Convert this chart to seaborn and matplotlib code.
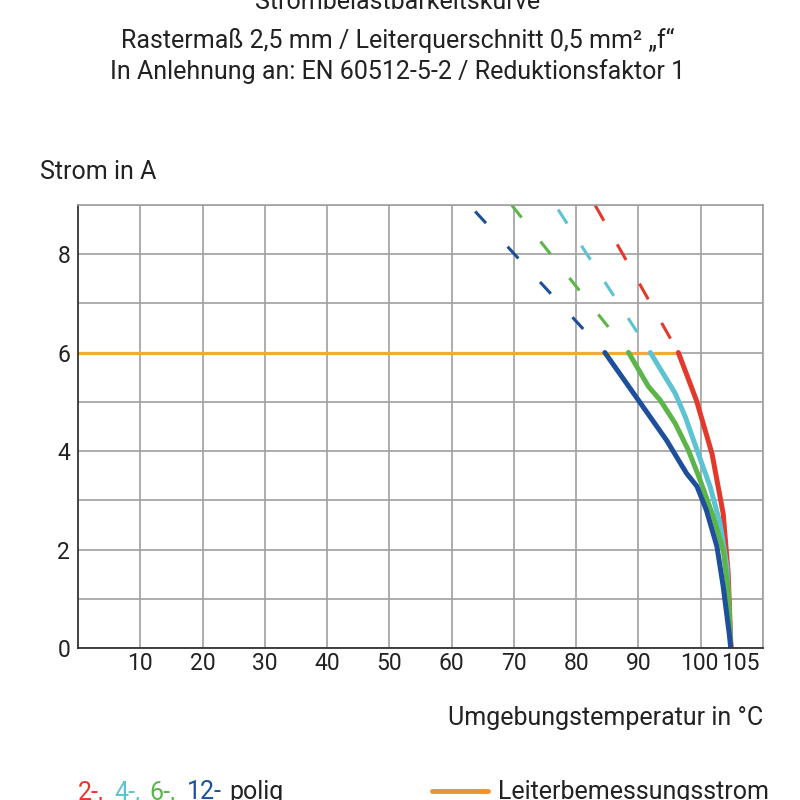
import matplotlib
matplotlib.use("Agg")
import matplotlib.pyplot as plt
import matplotlib.transforms as mtransforms
import seaborn as sns
import pandas as pd

# Daten
temp_2pol = [96.4, 99.3, 101.8, 103.6, 104.4, 104.8, 104.9]
strom_2pol = [6.0, 5.03, 3.95, 2.73, 1.52, 0.16, 0.0]
temp_4pol = [91.9, 95.9, 97.5, 99.4, 101.5, 103.1, 104.2, 104.8]
strom_4pol = [6.0, 5.17, 4.7, 4.02, 3.28, 2.53, 1.65, 0.0]
temp_6pol = [88.4, 91.6, 93.5, 95.9, 98.0, 99.9, 102.0, 103.6, 104.4, 104.8]
strom_6pol = [6.0, 5.31, 5.03, 4.56, 4.02, 3.41, 2.67, 1.99, 1.18, 0.0]
temp_12pol = [84.6, 90.0, 94.5, 97.7, 99.4, 100.9, 102.6, 103.6, 104.7, 104.8]
strom_12pol = [6.0, 5.03, 4.22, 3.55, 3.28, 2.8, 2.06, 1.25, 0.16, 0.0]

# gestrichelte Verlängerung oberhalb 6 A
dash_temp_2pol = [96.4, 83.0]
dash_temp_4pol = [91.9, 76.6]
dash_temp_6pol = [88.4, 69.6]
dash_temp_12pol = [84.6, 62.8]
dash_strom = [6.0, 9.0]

leiter_temp = [0, 96.4]
leiter_strom = [6.0, 6.0]

farben = ["#e2392d", "#5cc3d3", "#5bb548", "#1d4f9c"]
orange = "#f5a93c"
# Strichmuster je Kurve (Offset, (Strich, Lücke)) in pt
muster = [(21, (13, 19.5)), (13.5, (12, 19)), (10, (11.5, 22)), (11.5, (11.5, 23))]

df = pd.concat([
    pd.DataFrame({"temp": temp_2pol, "strom": strom_2pol, "pol": "2"}),
    pd.DataFrame({"temp": temp_4pol, "strom": strom_4pol, "pol": "4"}),
    pd.DataFrame({"temp": temp_6pol, "strom": strom_6pol, "pol": "6"}),
    pd.DataFrame({"temp": temp_12pol, "strom": strom_12pol, "pol": "12"}),
])

sns.set_style("white")
plt.rcParams["font.family"] = ["Roboto", "DejaVu Sans"]
plt.rcParams["lines.scale_dashes"] = False
textfarbe = "#222222"

fig = plt.figure(figsize=(8, 8), dpi=100)
ax = fig.add_axes([0.0975, 0.19, 0.8563, 0.554])

# Leiterbemessungsstrom
sns.lineplot(x=leiter_temp, y=leiter_strom, color=orange, linewidth=2.3, ax=ax)

# gestrichelte Linien
for dt, c, m in zip([dash_temp_2pol, dash_temp_4pol, dash_temp_6pol, dash_temp_12pol], farben, muster):
    sns.lineplot(x=dt, y=dash_strom, color=c, linewidth=2.2, sort=False,
                 estimator=None, ax=ax, linestyle=m)

# Kurven
sns.lineplot(data=df, x="temp", y="strom", hue="pol", palette=farben,
             sort=False, estimator=None, linewidth=3.6, legend=False, ax=ax)

ax.set_xlim(0, 110)
ax.set_ylim(0, 9)
ax.set_xticks([10, 20, 30, 40, 50, 60, 70, 80, 90, 100, 105, 110])
ax.set_xticklabels(["10", "20", "30", "40", "50", "60", "70", "80", "90", "100", "105", ""])
ax.set_xticks(range(0, 111, 2), minor=True)
ax.set_yticks(range(0, 10))
ax.set_yticklabels(["0", "", "2", "", "4", "", "6", "", "8", ""])
ax.set_yticks([i * 0.2 for i in range(46)], minor=True)
ax.grid(True, which="major", color="#a0a0a0", linewidth=1.2)
ax.get_xgridlines()[10].set_visible(False)
ax.set_axisbelow(True)

ax.tick_params(axis="both", which="both", direction="inout", colors="#333333",
               labelcolor=textfarbe, labelsize=16.5, width=1, pad=3)
ax.tick_params(axis="both", which="major", length=5)
ax.tick_params(axis="both", which="minor", length=4)
ax.tick_params(axis="x", which="major", length=0)
# "100" und "105" etwas auseinander wie im Original
labels = ax.get_xticklabels()
labels[9].set_transform(labels[9].get_transform() + mtransforms.ScaledTranslation(-0.02, 0, fig.dpi_scale_trans))
labels[10].set_transform(labels[10].get_transform() + mtransforms.ScaledTranslation(0.08, 0, fig.dpi_scale_trans))

for s in ["top", "right"]:
    ax.spines[s].set_color("#a0a0a0")
    ax.spines[s].set_linewidth(1.2)
for s in ["left", "bottom"]:
    ax.spines[s].set_color("#333333")
    ax.spines[s].set_linewidth(1.3)
ax.set_xlabel("")
ax.set_ylabel("")

fs = 18
fig.text(0.497, 0.997, "Strombelastbarkeitskurve", ha="center", va="center", fontsize=fs, color=textfarbe)
fig.text(0.497, 0.95, "Rastermaß 2,5 mm / Leiterquerschnitt 0,5 mm² „f“", ha="center", va="center",
         fontsize=fs, color=textfarbe)
fig.text(0.497, 0.91, "In Anlehnung an: EN 60512-5-2 / Reduktionsfaktor 1", ha="center", va="center",
         fontsize=fs, color=textfarbe)
fig.text(0.05, 0.785, "Strom in A", ha="left", va="center", fontsize=fs, color=textfarbe)
fig.text(0.954, 0.1025, "Umgebungstemperatur in °C", ha="right", va="center", fontsize=fs, color=textfarbe)

# Legende
teile = [("2-,", farben[0], 0.097), ("4-,", farben[1], 0.143), ("6-,", farben[2], 0.187),
         ("12-", farben[3], 0.234), ("polig", textfarbe, 0.286)]
for t, c, xp in teile:
    fig.text(xp, 0.001, t, ha="left", va="baseline", fontsize=fs, color=c)
fig.add_artist(plt.Line2D([0.54, 0.61], [0.011, 0.011], color="#f0922e", linewidth=3.5))
fig.text(0.622, 0.001, "Leiterbemessungsstrom", ha="left", va="baseline", fontsize=fs, color=textfarbe)

fig.savefig("out.png", dpi=100)
